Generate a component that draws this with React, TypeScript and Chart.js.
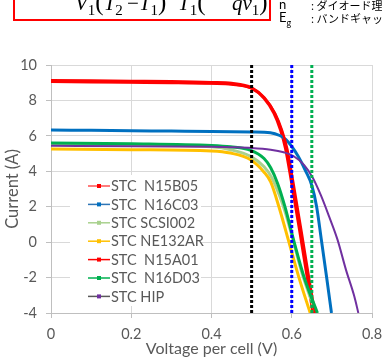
import React, { useEffect, useRef } from "react";
import { Chart, registerables } from "chart.js";
Chart.register(...registerables);

const seriesLabels = [
  "STC  N15B05",
  "STC  N16C03",
  "STC SCSI002",
  "STC NE132AR",
  "STC  N15A01",
  "STC  N16D03",
  "STC HIP",
];
const seriesColors = ["#FF0000", "#0070C0", "#A9D18E", "#FFC000", "#FF0000", "#00B050", "#7030A0"];
const legendLineColors = ["#FF5050", "#2E75B6", "#A9D18E", "#FFC000", "#FF0000", "#00B050", "#595959"];
const seriesWidths = [3.5, 3, 3, 3, 2.5, 3, 2];

const n15b05V = [0, 0.1, 0.2, 0.3, 0.4, 0.45, 0.5, 0.531, 0.556, 0.5725, 0.585, 0.6, 0.62, 0.64, 0.6535];
const n15b05I = [9.11, 9.09, 9.07, 9.05, 9.0, 8.95, 8.7, 8.14, 7.29, 6.35, 5.3, 3.4, 0.7, -2.1, -4];

const n16c03V = [0, 0.1, 0.2, 0.3, 0.4, 0.5, 0.547, 0.57, 0.585, 0.6, 0.617, 0.635, 0.65, 0.662, 0.674, 0.687, 0.699];
const n16c03I = [6.33, 6.31, 6.29, 6.27, 6.25, 6.22, 6.18, 6.02, 5.8, 5.4, 4.8, 4.0, 3.2, 2.0, 0.1, -2.0, -4];

const scsi002V = [0, 0.2, 0.4, 0.4475, 0.4975, 0.531, 0.55, 0.57, 0.585, 0.6, 0.625, 0.66];
const scsi002I = [5.55, 5.5, 5.38, 5.22, 4.84, 4.25, 3.65, 2.6, 1.6, 0.4, -1.7, -4];

const ne132arV = [0, 0.2, 0.4, 0.4475, 0.4975, 0.531, 0.5475, 0.568, 0.593, 0.618, 0.646];
const ne132arI = [5.26, 5.22, 5.15, 5.03, 4.65, 3.95, 3.4, 2.0, 0.0, -2.0, -4];

const n15a01V = [0, 0.1, 0.2, 0.3, 0.4, 0.45, 0.5, 0.533, 0.559, 0.576, 0.589, 0.604, 0.624, 0.644, 0.658];
const n15a01I = [9.05, 9.03, 9.01, 8.99, 8.95, 8.9, 8.68, 8.1, 7.25, 6.3, 5.25, 3.35, 0.65, -2.15, -4];

const n16d03V = [0, 0.2, 0.4, 0.4475, 0.4975, 0.531, 0.5475, 0.565, 0.583, 0.606, 0.631, 0.664];
const n16d03I = [5.6, 5.56, 5.46, 5.38, 5.18, 4.72, 4.2, 3.3, 2.0, 0.0, -2.0, -4];

const hipV = [0, 0.2, 0.4, 0.45, 0.5, 0.5475, 0.58, 0.605, 0.631, 0.652, 0.6725, 0.693, 0.714, 0.735, 0.756, 0.766];
const hipI = [5.44, 5.42, 5.38, 5.36, 5.32, 5.22, 5.07, 4.85, 4.35, 3.65, 2.65, 1.45, 0.14, -1.55, -3.07, -4];

const seriesV = [n15b05V, n16c03V, scsi002V, ne132arV, n15a01V, n16d03V, hipV];
const seriesI = [n15b05I, n16c03I, scsi002I, ne132arI, n15a01I, n16d03I, hipI];

const markerV = [0.5, 0.6, 0.65];
const markerColors = ["#000000", "#0000FF", "#00B050"];

const xTickLabels = ["0", "0.2", "0.4", "0.6", "0.8"];
const yTickLabels = ["-4", "-2", "0", "2", "4", "6", "8", "10"];

const FONT = "Lato, 'Open Sans', sans-serif";
const GRAY = "#595959";

const insideLegend = {
  id: "insideLegend",
  beforeDatasetsDraw(chart: any) {
    const { ctx, chartArea } = chart;
    const x0 = chartArea.left + 19;
    const y0 = chartArea.top + 110;
    ctx.save();
    ctx.fillStyle = "#ffffff";
    ctx.fillRect(x0, y0, 131, 131);
    ctx.font = `14.5px ${FONT}`;
    ctx.textBaseline = "middle";
    ctx.textAlign = "left";
    seriesLabels.forEach((label, i) => {
      const y = chartArea.top + 121 + i * 18.4;
      ctx.strokeStyle = legendLineColors[i];
      ctx.lineWidth = 1.5;
      ctx.beginPath();
      ctx.moveTo(chartArea.left + 37, y);
      ctx.lineTo(chartArea.left + 59, y);
      ctx.stroke();
      ctx.fillStyle = seriesColors[i];
      ctx.fillRect(chartArea.left + 46, y - 2, 4, 4);
      ctx.fillStyle = GRAY;
      ctx.fillText(label, chartArea.left + 60, y + 0.5);
    });
    ctx.restore();
  },
};

export default function App() {
  const ref = useRef<HTMLCanvasElement>(null);
  useEffect(() => {
    if (!ref.current) return;
    const curveSets = seriesLabels.map((label, i) => ({
      label,
      data: seriesV[i].map((v, k) => ({ x: v, y: seriesI[i][k] })),
      borderColor: seriesColors[i],
      backgroundColor: seriesColors[i],
      borderWidth: seriesWidths[i],
      pointRadius: 0,
      showLine: true,
      cubicInterpolationMode: "monotone" as const,
      order: 10 - i,
    }));
    const markerSets = markerV.map((v, i) => ({
      label: "marker" + i,
      data: [
        { x: v, y: 10 },
        { x: v, y: -4 },
      ],
      borderColor: markerColors[i],
      borderWidth: 3,
      borderDash: [3, 2],
      pointRadius: 0,
      showLine: true,
      order: 0,
    }));
    const chart = new Chart(ref.current, {
      type: "scatter",
      data: { datasets: [...curveSets, ...markerSets] as any },
      plugins: [insideLegend],
      options: {
        animation: false,
        responsive: false,
        maintainAspectRatio: false,
        layout: { padding: { left: 0, top: 65, right: 0, bottom: 0 } },
        plugins: { legend: { display: false }, tooltip: { enabled: false } },
        scales: {
          x: {
            type: "linear",
            min: 0,
            max: 0.8,
            afterFit: (s: any) => {
              s.height = 45;
              s.paddingRight = 10;
              s.paddingLeft = 0;
            },
            ticks: {
              stepSize: 0.2,
              color: GRAY,
              font: { family: FONT, size: 14.5 },
              padding: 8,
              callback: (_v: any, i: number) => xTickLabels[i],
            },
            grid: { color: "#D9D9D9", tickLength: 5, tickColor: "#BFBFBF" },
            border: { color: "#BFBFBF" },
            title: {
              display: true,
              text: "Voltage per cell (V)",
              color: GRAY,
              font: { family: FONT, size: 16 },
              padding: { top: 0, bottom: 0 },
            },
          },
          y: {
            type: "linear",
            min: -4,
            max: 10,
            afterFit: (s: any) => {
              s.width = 51;
            },
            ticks: {
              stepSize: 2,
              color: GRAY,
              font: { family: FONT, size: 14.5 },
              padding: 9,
              callback: (_v: any, i: number) => yTickLabels[i],
            },
            grid: { color: "#D9D9D9", tickLength: 5, tickColor: "#BFBFBF" },
            border: { color: "#BFBFBF" },
            title: {
              display: true,
              text: "Current (A)",
              color: GRAY,
              font: { family: FONT, size: 16.5 },
              padding: { top: 3, bottom: 0 },
            },
          },
        },
      },
    });
    return () => chart.destroy();
  }, []);

  const serif = "'Liberation Serif', 'DejaVu Serif', serif";
  const jp = "'Noto Sans CJK JP', sans-serif";
  const sub = { fontStyle: "normal" as const, fontSize: 15 };
  const paren = { fontStyle: "normal" as const, fontSize: 25 };
  return (
    <div style={{ position: "fixed", left: 0, top: 0, width: 382, height: 358, overflow: "hidden", background: "#fff" }}>
      <canvas ref={ref} width={382} height={358} style={{ position: "absolute", left: 0, top: 0, width: 382, height: 358 }} />
      <div
        style={{
          position: "absolute",
          left: 13,
          top: -30,
          width: 254,
          height: 47,
          border: "2px solid #FF0000",
        }}
      />
      <div style={{ position: "absolute", left: 0, top: 0, fontFamily: serif, fontSize: 21, fontStyle: "italic", color: "#000", whiteSpace: "nowrap" }}>
        <span style={{ position: "absolute", left: 75, top: -12 }}>
          V<sub style={sub}>1</sub>
          <span style={paren}>(</span>T<sub style={sub}>2</sub>
          <span style={{ fontStyle: "normal" }}>{"\u2009\u2212"}</span>T<sub style={sub}>1</sub>
          <span style={paren}>)</span>
        </span>
        <span style={{ position: "absolute", left: 178, top: -12 }}>
          T<sub style={sub}>1</sub>
          <span style={paren}>(</span>
        </span>
        <span style={{ position: "absolute", left: 232, top: -12 }}>
          qv<sub style={sub}>1</sub>
          <span style={paren}>)</span>
        </span>
      </div>
      <div style={{ position: "absolute", left: 279, top: -4, fontFamily: "Lato, sans-serif", fontSize: 13, color: "#000", whiteSpace: "nowrap" }}>n</div>
      <div style={{ position: "absolute", left: 279, top: 9, fontFamily: "Lato, sans-serif", fontSize: 13, color: "#000", whiteSpace: "nowrap" }}>
        E<sub style={{ fontSize: 9 }}>g</sub>
      </div>
      <div style={{ position: "absolute", left: 311, top: -3, fontFamily: jp, fontSize: 11, color: "#000", whiteSpace: "nowrap" }}>
        : ダイオード理想因子
      </div>
      <div style={{ position: "absolute", left: 311, top: 10, fontFamily: jp, fontSize: 11, color: "#000", whiteSpace: "nowrap" }}>
        : バンドギャップエネルギー
      </div>
    </div>
  );
}
